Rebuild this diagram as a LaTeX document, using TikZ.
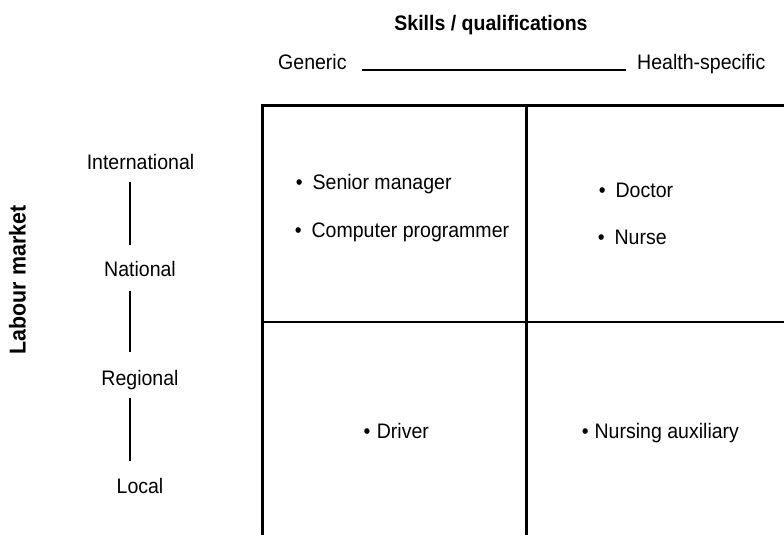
\documentclass[tikz,border=0pt]{standalone}
\usepackage{fontspec}
\setmainfont[FakeStretch=0.93]{Liberation Sans}
\begin{document}
\begin{tikzpicture}[x=1pt,y=-1pt,
  txt/.style={font=\fontsize{21}{25}\selectfont, inner sep=0pt},
  hd/.style={font=\fontsize{21}{25}\selectfont\bfseries, inner sep=0pt},
  rule/.style={line width=2.6pt},
  tick/.style={line width=2.2pt}]
\useasboundingbox (0,0) rectangle (784,535);
% headings
\node[hd, anchor=base] (skills) at (491,31) {Skills / qualifications};
\node[hd, font=\fontsize{23}{27}\selectfont\bfseries, anchor=base, rotate=90] (labour) at (25.5,280) {Labour market};
% skills axis
\node[txt, anchor=base west] (gen) at (278,70) {Generic};
\node[txt, anchor=base west] (hs) at (637,70) {Health-specific};
\draw[tick] ([xshift=15pt]gen.base east) -- ([xshift=-11pt]hs.base west);
% labour market axis
\node[txt, anchor=base] (intl) at (140.5,169.3) {International};
\node[txt, anchor=base] (nat) at (140,276.7) {National};
\node[txt, anchor=base] (reg) at (140,385) {Regional};
\node[txt, anchor=base] (loc) at (140,493.3) {Local};
\draw[tick] ([xshift=-10.5pt,yshift=-12.4pt]intl.base) -- ([xshift=-10pt,yshift=31.7pt]nat.base);
\draw[tick] ([xshift=-10pt,yshift=-14pt]nat.base) -- ([xshift=-10pt,yshift=33.3pt]reg.base);
\draw[tick] ([xshift=-10pt,yshift=-12.7pt]reg.base) -- ([xshift=-10pt,yshift=32.6pt]loc.base);
% grid
\draw[rule] (262.7,535) -- (262.7,105.7) -- (784,105.7);
\draw[rule] (526.7,105.7) -- (526.7,535);
\draw[rule] (262.7,322) -- (784,322);
% cells
\node[txt, anchor=base west] (sm) at (295.6,189) {\textbullet\hspace{10pt}Senior manager};
\node[txt, anchor=base west] (cp) at (294.6,237.5) {\textbullet\hspace{10pt}Computer programmer};
\node[txt, anchor=base west] (doc) at (598.6,197) {\textbullet\hspace{10pt}Doctor};
\node[txt, anchor=base west] (nur) at (597.6,244) {\textbullet\hspace{10pt}Nurse};
\node[txt, anchor=base west] (drv) at (363.3,438) {\textbullet\hspace{6.5pt}Driver};
\node[txt, anchor=base west] (aux) at (581.6,438) {\textbullet\hspace{6pt}Nursing auxiliary};
\end{tikzpicture}
\end{document}
